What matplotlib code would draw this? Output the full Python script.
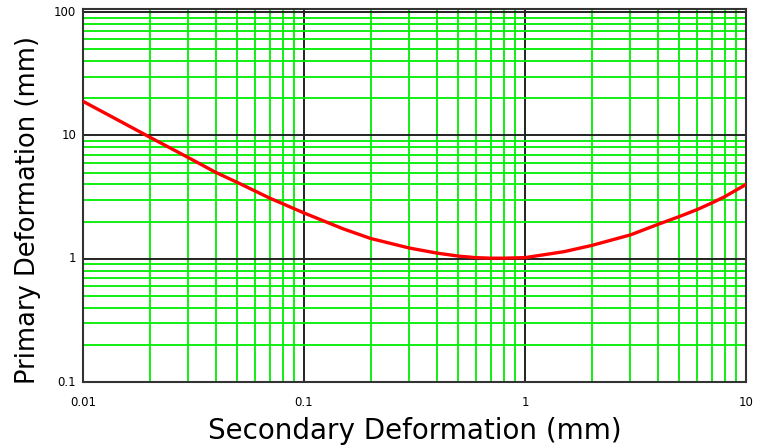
import matplotlib
matplotlib.use("Agg")
import matplotlib.pyplot as plt
from matplotlib.ticker import LogLocator, FixedLocator, FixedFormatter, NullFormatter

# Data
secondary_mm = [0.01, 0.015, 0.02, 0.03, 0.04, 0.05, 0.07, 0.1, 0.15, 0.2, 0.3, 0.4,
                0.5, 0.6, 0.7, 0.8, 1.0, 1.5, 2.0, 3.0, 4.0, 5.0, 6.0, 7.0, 8.0, 10.0]
primary_mm = [18.9, 12.8, 9.7, 6.6, 5.0, 4.15, 3.1, 2.35, 1.75, 1.46, 1.22, 1.11,
              1.05, 1.02, 1.01, 1.01, 1.02, 1.14, 1.28, 1.56, 1.9, 2.2, 2.5, 2.83, 3.18, 4.0]

x_ticks = [0.01, 0.1, 1, 10]
x_tick_labels = ["0.01", "0.1", "1", "10"]
y_ticks = [0.1, 1, 10, 100]
y_tick_labels = ["0.1", "1", "10", "100"]

fig = plt.figure(figsize=(7.57, 4.47), dpi=100)
ax = fig.add_axes([83/757, 1-382/447, (746-83)/757, (382-9)/447])
ax.set_xscale("log")
ax.set_yscale("log")
ax.set_xlim(0.01, 10)
ax.set_ylim(0.1, 106)

ax.xaxis.set_major_locator(FixedLocator(x_ticks))
ax.xaxis.set_major_formatter(FixedFormatter(x_tick_labels))
ax.yaxis.set_major_locator(FixedLocator(y_ticks))
ax.yaxis.set_major_formatter(FixedFormatter(y_tick_labels))
ax.xaxis.set_minor_locator(LogLocator(base=10, subs=range(2, 10)))
ax.yaxis.set_minor_locator(LogLocator(base=10, subs=range(2, 10)))
ax.xaxis.set_minor_formatter(NullFormatter())
ax.yaxis.set_minor_formatter(NullFormatter())

ax.grid(which="minor", color="#00ee00", linewidth=1.3, zorder=1)
ax.grid(which="major", color="#222222", linewidth=1.4, zorder=2)
ax.set_axisbelow(True)

ax.tick_params(which="both", length=0)
ax.tick_params(axis="x", pad=10, labelsize=8.5)
ax.tick_params(axis="y", pad=5, labelsize=8.5)
for lbl in ax.get_yticklabels():
    lbl.set_verticalalignment("center")

for s in ax.spines.values():
    s.set_color("#333333")
    s.set_linewidth(1.5)

ax.plot(secondary_mm, primary_mm, color="#ff0000", linewidth=2.4, zorder=5)

ax.set_xlabel("Secondary Deformation (mm)", fontsize=20, labelpad=6)
ax.set_ylabel("Primary Deformation (mm)", fontsize=18.5)
ax.yaxis.set_label_coords(-0.063, 0.46)

fig.savefig("out.png", dpi=100)
